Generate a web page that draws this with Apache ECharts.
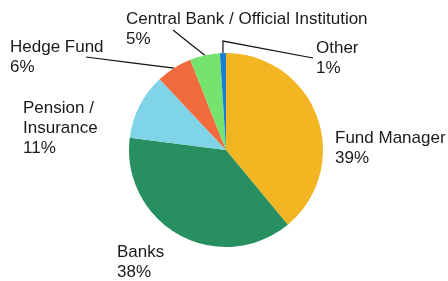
<!DOCTYPE html>
<html><head><meta charset="utf-8">
<script src="https://cdn.jsdelivr.net/npm/echarts@6/dist/echarts.min.js"></script>
<style>html,body{margin:0;padding:0;background:#fff}#c{width:448px;height:281px}</style>
</head><body><div id="c"></div>
<script>
var categories = ['Fund Manager', 'Banks', 'Pension /\nInsurance', 'Hedge Fund', 'Central Bank / Official Institution', 'Other'];
var values = [39, 38, 11, 6, 5, 1];
var colors = ['#F3B623', '#289060', '#80D4E8', '#F16B3C', '#74E46F', '#1A7FD0'];
var showLine = [false, false, false, true, true, true];
// label anchor positions (top-left of text block)
var labelPos = [[335, 128], [117, 242], [23, 98], [10, 37], [126, 9], [316, 38]];
// label-side end of leader line, relative to the label's top-left
var lineEnd = [null, null, null, [76, 20], [47, 21], [-3, 20]];
// elbow style: 'mid' straight, 'up' vertical first
var elbow = [null, null, null, 'mid', 'mid', 'up'];

var CX = 226, CY = 150, R = 97;
var total = values.reduce(function (a, b) { return a + b; }, 0);

var chart = echarts.init(document.getElementById('c'), null, {renderer: 'canvas'});
chart.setOption({
  animation: false,
  series: [{
    type: 'pie',
    center: [CX, CY],
    radius: [0, R],
    startAngle: 90,
    clockwise: true,
    avoidLabelOverlap: false,
    data: categories.map(function (n, i) {
      return {name: n, value: values[i], itemStyle: {color: colors[i]}, labelLine: {show: showLine[i]}};
    }),
    label: {
      show: true,
      formatter: function (p) { return p.name + '\n' + p.value + '%'; },
      fontFamily: 'Liberation Sans, Arial, sans-serif',
      fontSize: 17,
      lineHeight: 20,
      color: '#1a1a1a'
    },
    labelLine: {show: true, lineStyle: {color: '#111', width: 1.2}, length: 10, length2: 10},
    labelLayout: function (p) {
      var i = p.dataIndex;
      var pos = labelPos[i];
      var out = {x: pos[0], y: pos[1], align: 'left', verticalAlign: 'top'};
      if (showLine[i]) {
        var cum = 0;
        for (var k = 0; k < i; k++) cum += values[k];
        var f = (cum + values[i] / 2) / total;
        var a = (90 - f * 360) * Math.PI / 180;
        var ax = CX + R * Math.cos(a), ay = CY - R * Math.sin(a);
        var ex = pos[0] + lineEnd[i][0], ey = pos[1] + lineEnd[i][1];
        var m = elbow[i] === 'up' ? [ax, ay - 12] : [(ax + ex) / 2, (ay + ey) / 2];
        out.labelLinePoints = [[ax, ay], m, [ex, ey]];
      }
      return out;
    }
  }]
});
</script></body></html>
